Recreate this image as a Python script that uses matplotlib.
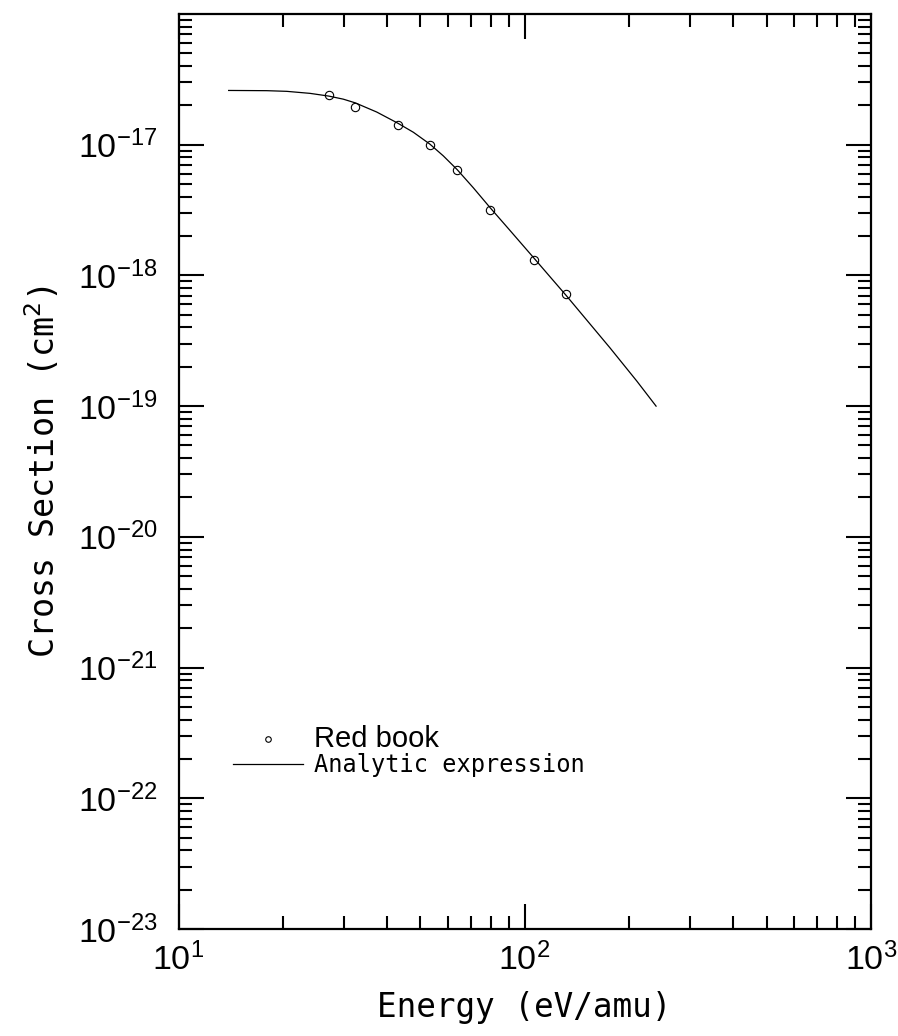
import matplotlib
matplotlib.use("Agg")
import matplotlib.pyplot as plt
from matplotlib.ticker import LogLocator, NullFormatter
from matplotlib.lines import Line2D

# Red book data points
energy_rb = [27.16, 32.4, 42.99, 53.2, 63.8, 79.4, 106.2, 132.0]
sigma_rb = [2.40e-17, 1.93e-17, 1.42e-17, 9.88e-18, 6.40e-18, 3.17e-18, 1.32e-18, 7.24e-19]

# Analytic expression
energy_fit = [13.96, 17.98, 20.54, 23.99, 27.16, 29.94, 32.4, 37.38, 42.99, 47.7,
              53.2, 58.2, 63.8, 71.1, 79.4, 90.7, 106.2, 118.4, 132.0, 176.5,
              210.9, 239.8]
sigma_fit = [2.60e-17, 2.59e-17, 2.56e-17, 2.47e-17, 2.355e-17, 2.23e-17, 2.09e-17,
             1.778e-17, 1.462e-17, 1.245e-17, 1.012e-17, 8.22e-18, 6.46e-18, 4.68e-18,
             3.31e-18, 2.21e-18, 1.365e-18, 9.77e-19, 7.00e-19, 2.79e-19, 1.556e-19,
             1.00e-19]

y_major = [1e-23, 1e-22, 1e-21, 1e-20, 1e-19, 1e-18, 1e-17]
x_major = [10, 100, 1000]

MONO = "DejaVu Sans Mono"
SANS = "Liberation Sans"

fig = plt.figure(figsize=(8.98, 10.36), dpi=100)
ax = fig.add_axes([0.1988, 0.1033, 0.7708, 0.8832])

ax.plot(energy_fit, sigma_fit, color="black", linewidth=0.9)
ax.plot(energy_rb, sigma_rb, linestyle="none", marker="o", markersize=6,
        markerfacecolor="none", markeredgecolor="black", markeredgewidth=0.8)

ax.set_xscale("log")
ax.set_yscale("log")
ax.set_xlim(10, 1000)
ax.set_ylim(1e-23, 1e-16)
ax.set_xticks(x_major)
ax.set_yticks(y_major)
ax.xaxis.set_minor_locator(LogLocator(base=10, subs=range(2, 10), numticks=20))
ax.yaxis.set_minor_locator(LogLocator(base=10, subs=range(2, 10), numticks=20))
ax.xaxis.set_minor_formatter(NullFormatter())
ax.yaxis.set_minor_formatter(NullFormatter())

for s in ax.spines.values():
    s.set_linewidth(1.6)
ax.tick_params(which="both", direction="in", top=True, right=True, width=1.5)
ax.tick_params(which="major", length=18, labelsize=24.5, labelfontfamily=SANS)
ax.tick_params(which="minor", length=9.5)
ax.tick_params(axis="y", which="major", pad=15)
ax.tick_params(axis="x", which="major", pad=10)

ax.set_xlabel("Energy (eV/amu)", fontsize=23.5, family=MONO, labelpad=10)
ax.set_ylabel(r"Cross Section (cm$^2$)", fontsize=24, family=MONO, labelpad=12)

handles = [
    Line2D([], [], linestyle="none", marker="o", markersize=4,
           markerfacecolor="none", markeredgecolor="black", markeredgewidth=0.8),
    Line2D([], [], color="black", linewidth=0.9),
]
leg = ax.legend(handles, ["Red book", "Analytic expression"], loc="upper left",
                bbox_to_anchor=(0.061, 0.236), frameon=False, borderpad=0,
                handlelength=3.0, handletextpad=0.45, labelspacing=0.0,
                fontsize=17)
leg.get_texts()[0].set_family(SANS)
leg.get_texts()[0].set_fontsize(21)
leg.get_texts()[1].set_family(MONO)

fig.savefig("out.png", dpi=100)
